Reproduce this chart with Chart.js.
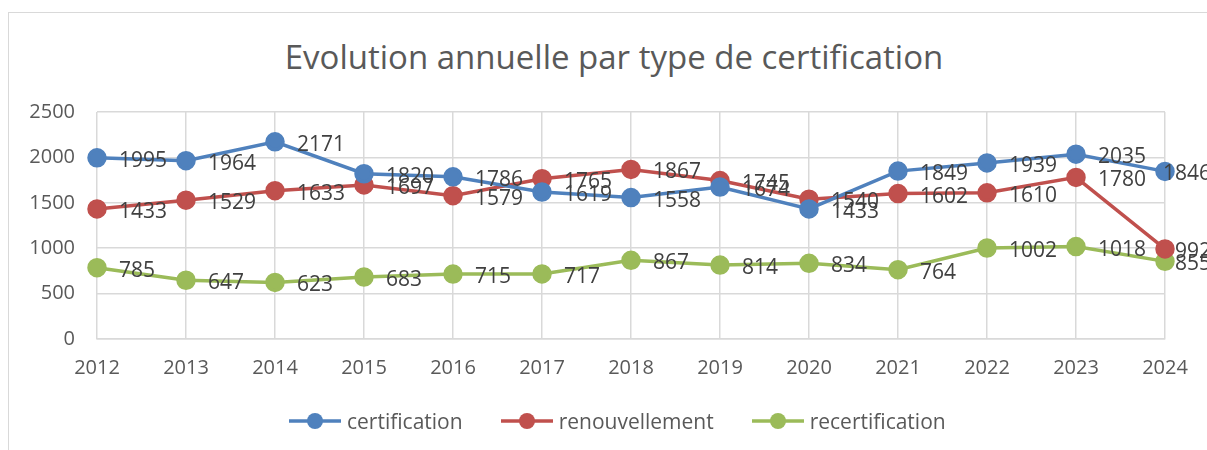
<!DOCTYPE html>
<html>
<head>
<meta charset="utf-8">
<script src="https://cdn.jsdelivr.net/npm/chart.js@4"></script>
<style>
  html, body { margin: 0; padding: 0; background: #fff; overflow: hidden; }
  #frame { position: absolute; left: 8px; top: 12px; width: 1230px; height: 460px; border: 1px solid #d9d9d9; box-sizing: border-box; }
  #wrap { position: absolute; left: 0; top: 0; width: 1207px; height: 450px; }
  #title { position: absolute; left: 114px; width: 1000px; top: 37px; height: 40px; line-height: 40px; text-align: center;
           font-family: 'Open Sans', 'Liberation Sans', sans-serif; font-size: 33px; color: #595959; }
  #legend { position: absolute; left: 289px; top: 408px; height: 26px; display: flex; align-items: center;
            font-family: 'Open Sans', 'Liberation Sans', sans-serif; font-size: 21px; color: #595959; }
  .item { display: flex; align-items: center; margin-right: 38px; }
  .item canvas { margin-right: 6px; }
</style>
</head>
<body>
<div id="frame"></div>
<div id="title">Evolution annuelle par type de certification</div>
<div id="wrap"><canvas id="chart" width="1207" height="450"></canvas></div>
<div id="legend"></div>
<script>
// --- Data ---
const years = ['2012','2013','2014','2015','2016','2017','2018','2019','2020','2021','2022','2023','2024'];
const certification = [1995, 1964, 2171, 1820, 1786, 1619, 1558, 1674, 1433, 1849, 1939, 2035, 1846];
const renouvellement = [1433, 1529, 1633, 1697, 1579, 1765, 1867, 1745, 1540, 1602, 1610, 1780, 992];
const recertification = [785, 647, 623, 683, 715, 717, 867, 814, 834, 764, 1002, 1018, 855];
const yTicks = [0, 500, 1000, 1500, 2000, 2500];

const FONT = "'Open Sans', 'Liberation Sans', sans-serif";
const series = [
    { label: 'certification', data: certification, color: '#4F81BD' },
    { label: 'renouvellement', data: renouvellement, color: '#C0504D' },
    { label: 'recertification', data: recertification, color: '#9BBB59' }
];

// value labels to the right of each point (pushed back inside on the far right)
const valueLabels = {
    id: 'valueLabels',
    afterDatasetsDraw(chart) {
        const ctx = chart.ctx;
        ctx.save();
        ctx.font = '21px ' + FONT;
        ctx.fillStyle = '#404040';
        ctx.textBaseline = 'middle';
        ctx.textAlign = 'left';
        chart.data.datasets.forEach((ds, i) => {
            chart.getDatasetMeta(i).data.forEach((pt, j) => {
                const txt = String(ds.data[j]);
                const w = ctx.measureText(txt).width;
                const x = Math.min(pt.x + 22, 1211 - w);
                ctx.fillText(txt, x, pt.y + 3);
            });
        });
        ctx.restore();
    }
};

const datasets = series.map(s => ({
    label: s.label, data: s.data,
    borderColor: s.color, backgroundColor: s.color,
    borderWidth: 3.5, pointRadius: 8, pointHoverRadius: 8,
    pointBackgroundColor: s.color, pointBorderColor: s.color,
    tension: 0
}));

new Chart(document.getElementById('chart'), {
    type: 'line',
    data: { labels: years, datasets },
    plugins: [valueLabels],
    options: {
        responsive: false,
        animation: false,
        layout: { padding: { left: 20, right: 42, top: 112, bottom: 53 } },
        plugins: {
            tooltip: { enabled: false },
            legend: { display: false },
            title: { display: false }
        },
        scales: {
            x: {
                offset: false,
                grid: { color: '#d9d9d9', lineWidth: 1.5, drawTicks: false },
                border: { color: '#d9d9d9', width: 1.5 },
                ticks: { color: '#595959', font: { family: FONT, size: 20 }, padding: 17, maxRotation: 0 }
            },
            y: {
                min: 0, max: 2500,
                grid: { color: '#d9d9d9', lineWidth: 1.5, drawTicks: false },
                border: { display: false },
                afterBuildTicks(s) { s.ticks = yTicks.map(v => ({ value: v })); },
                ticks: { color: '#595959', font: { family: FONT, size: 20 }, padding: 22, callback: v => String(v) },
                afterFit(s) { s.width = 77; }
            }
        }
    }
});

// legend: line with a dot, then the name
const lg = document.getElementById('legend');
series.forEach(s => {
    const item = document.createElement('div');
    item.className = 'item';
    const c = document.createElement('canvas');
    c.width = 52; c.height = 20;
    const ctx = c.getContext('2d');
    ctx.strokeStyle = s.color; ctx.lineWidth = 3.5;
    ctx.beginPath(); ctx.moveTo(0, 10); ctx.lineTo(52, 10); ctx.stroke();
    ctx.fillStyle = s.color;
    ctx.beginPath(); ctx.arc(26, 10, 8, 0, Math.PI * 2); ctx.fill();
    const t = document.createElement('span');
    t.textContent = s.label;
    item.appendChild(c); item.appendChild(t);
    lg.appendChild(item);
});
</script>
</body>
</html>
